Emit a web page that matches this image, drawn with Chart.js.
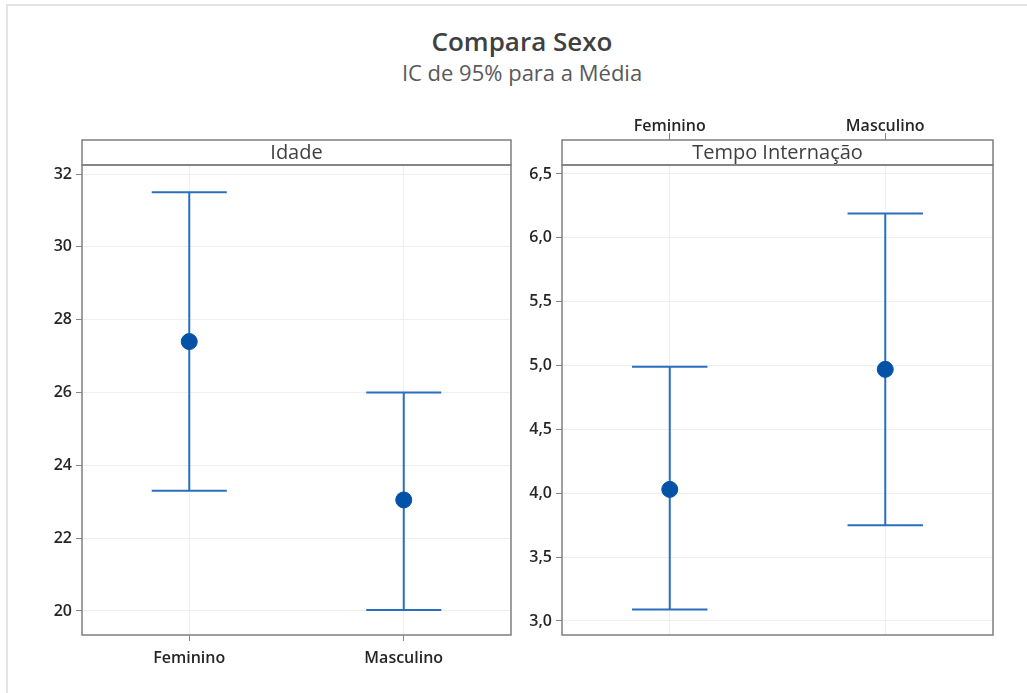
<!DOCTYPE html>
<html>
<head>
<meta charset="utf-8">
<script src="https://cdn.jsdelivr.net/npm/chart.js@4/dist/chart.umd.min.js"></script>
<style>
  body { margin: 0; background: #fff; }
  #page { position: relative; width: 1027px; height: 693px; overflow: hidden; font-family: "Open Sans", "Noto Sans", sans-serif; }
  #frame { position: absolute; left: 6px; top: 4px; width: 1030px; height: 700px; border-left: 2px solid #e4e4e4; border-top: 2px solid #e4e4e4; }
  #title { position: absolute; left: 0; width: 1044px; top: 23px; text-align: center; font-size: 26px; font-weight: 600; color: #404040; }
  #subtitle { position: absolute; left: 0; width: 1044px; top: 57px; text-align: center; font-size: 22px; color: #595959; }
  .box { position: absolute; top: 100px; height: 593px; }
</style>
</head>
<body>
<div id="page">
  <div id="frame"></div>
  <div id="title">Compara Sexo</div>
  <div id="subtitle">IC de 95% para a Média</div>
  <div class="box" style="left:0;width:520px"><canvas id="idadeChart"></canvas></div>
  <div class="box" style="left:515px;width:512px"><canvas id="tempoChart"></canvas></div>
</div>
<script>
var categories = ["Feminino", "Masculino"];

var idadeMean  = [27.4, 23.05];
var idadeLower = [23.3, 20.03];
var idadeUpper = [31.5, 26.0];

var tempoMean  = [4.03, 4.97];
var tempoLower = [3.09, 3.75];
var tempoUpper = [4.99, 6.19];

var lineColor = "#2a6fbd";
var pointColor = "#0352a8";
var capHalf = 0.175;

// strip with panel name above the plot + full box round the plot area
var stripPlugin = {
  id: "strip",
  afterDraw: function(chart, args, opts) {
    var a = chart.chartArea, ctx = chart.ctx;
    ctx.save();
    ctx.fillStyle = "#fff";
    ctx.fillRect(a.left, a.top - 25, a.right - a.left, 25);
    ctx.strokeStyle = "#7f7f7f";
    ctx.lineWidth = 1.5;
    ctx.strokeRect(a.left, a.top - 25, a.right - a.left, 25);
    ctx.strokeRect(a.left, a.top, a.right - a.left, a.bottom - a.top);
    ctx.fillStyle = "#404040";
    ctx.font = "20px 'Open Sans', 'Noto Sans', sans-serif";
    ctx.textAlign = "center";
    ctx.textBaseline = "middle";
    ctx.fillText(opts.text, (a.left + a.right) / 2, a.top - 12);
    ctx.restore();
  }
};

function buildDatasets(mean, lower, upper) {
  var ds = [{
    data: mean.map(function(v, i) { return { x: i, y: v }; }),
    pointRadius: 8,
    pointBackgroundColor: pointColor,
    pointBorderColor: pointColor,
    showLine: false,
    order: 0
  }];
  for (var i = 0; i < mean.length; i++) {
    ds.push({ data: [{ x: i, y: lower[i] }, { x: i, y: upper[i] }], order: 1 });
    ds.push({ data: [{ x: i - capHalf, y: upper[i] }, { x: i + capHalf, y: upper[i] }], order: 1 });
    ds.push({ data: [{ x: i - capHalf, y: lower[i] }, { x: i + capHalf, y: lower[i] }], order: 1 });
  }
  ds.forEach(function(d) {
    if (d.order === 1) {
      d.showLine = true;
      d.pointRadius = 0;
      d.borderColor = lineColor;
      d.borderWidth = 2;
    }
  });
  return ds;
}

var xFont = { family: "'Open Sans', 'Noto Sans', sans-serif", size: 16, weight: "600" };
var yFont = { family: "'Open Sans', 'Noto Sans', sans-serif", size: 16, weight: "600" };

function makeChart(id, mean, lower, upper, opt) {
  return new Chart(document.getElementById(id), {
    type: "scatter",
    data: { datasets: buildDatasets(mean, lower, upper) },
    options: {
      responsive: true,
      maintainAspectRatio: false,
      animation: false,
      layout: { padding: opt.padding },
      plugins: { legend: { display: false }, tooltip: { enabled: false }, strip: { text: opt.name } },
      scales: {
        x: {
          type: "linear",
          position: opt.xPos,
          min: -0.5, max: 1.5,
          afterBuildTicks: function(s) { s.ticks = categories.map(function(c, i) { return { value: i }; }); },
          afterFit: function(s) { s.height = opt.xHeight; },
          ticks: {
            color: "#262626", font: xFont, padding: opt.xPad,
            callback: function(v) { return categories[v]; }
          },
          grid: { color: "#efefef", tickColor: "#888", tickLength: opt.xTick },
          border: { display: false }
        },
        y: {
          min: opt.yMin, max: opt.yMax,
          afterFit: function(s) { s.width = opt.yWidth; },
          ticks: {
            stepSize: opt.step, includeBounds: false,
            color: "#262626", font: yFont, padding: 4,
            callback: opt.fmt
          },
          grid: { color: "#efefef", tickColor: "#888", tickLength: 6 },
          border: { display: false }
        }
      }
    },
    plugins: [stripPlugin]
  });
}

makeChart("idadeChart", idadeMean, idadeLower, idadeUpper, {
  name: "Idade",
  padding: { top: 65, right: 7, bottom: 8, left: 0 },
  xPos: "bottom", xHeight: 50, xTick: 6, xPad: 8,
  yMin: 19.34, yMax: 32.25, step: 2, yWidth: 82,
  fmt: function(v) { return String(v); }
});

makeChart("tempoChart", tempoMean, tempoLower, tempoUpper, {
  name: "Tempo Internação",
  padding: { top: 0, right: 34, bottom: 58, left: 0 },
  xPos: "top", xHeight: 65, xTick: 32, xPad: -3,
  yMin: 2.89, yMax: 6.57, step: 0.5, yWidth: 47,
  fmt: function(v) { return v.toFixed(1).replace(".", ","); }
});
</script>
</body>
</html>
